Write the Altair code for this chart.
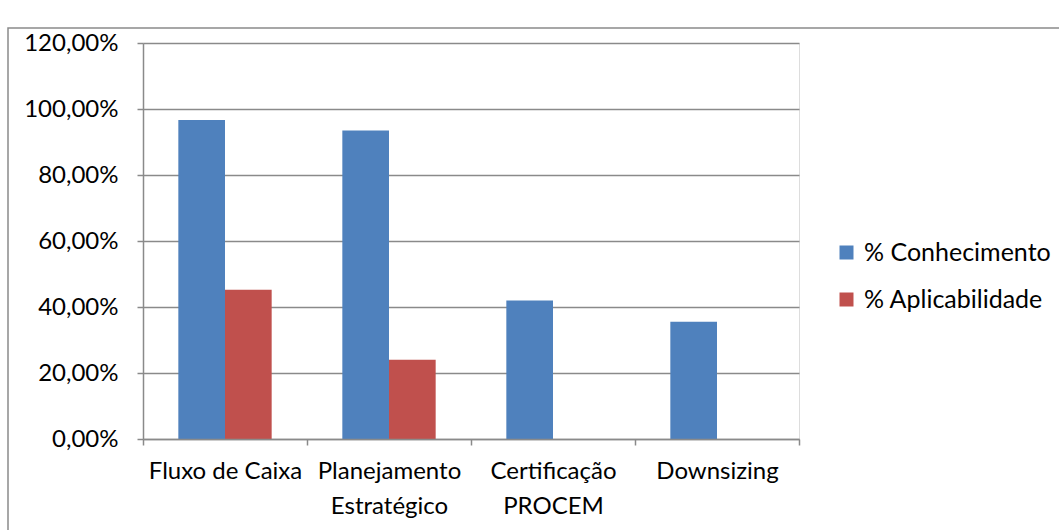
import altair as alt
import pandas as pd

categories = ["Fluxo de Caixa", "Planejamento\nEstratégico", "Certificação\nPROCEM", "Downsizing"]
series_names = ["% Conhecimento", "% Aplicabilidade"]
conhecimento = [96.7, 93.5, 42.0, 35.5]
aplicabilidade = [45.2, 24.0, 0.0, 0.0]
y_ticks = [0, 20, 40, 60, 80, 100, 120]

rows = []
for c, v1, v2 in zip(categories, conhecimento, aplicabilidade):
    rows.append({"cat": c, "serie": series_names[0], "valor": v1})
    rows.append({"cat": c, "serie": series_names[1], "valor": v2})
df = pd.DataFrame(rows)

FONT = "Lato"
FS = 24
GRID = "#8a8a8a"

frame = alt.Chart(pd.DataFrame({"a": [0]})).mark_rect(
    fillOpacity=0, stroke="#8a8a8a", strokeWidth=1.5
).encode(x=alt.value(-135), x2=alt.value(1000), y=alt.value(-15), y2=alt.value(600))

bars = alt.Chart(df).mark_bar().encode(
    x=alt.X("cat:N", sort=categories, scale=alt.Scale(paddingInner=0, paddingOuter=0),
            axis=alt.Axis(title=None, labelAngle=0, tickBand="extent", labelExpr="split(datum.label, '\\n')",
                          labelFont=FONT, labelFontSize=FS, labelColor="black", labelLineHeight=35,
                          labelPadding=14, domainColor=GRID, domainWidth=1.5, tickColor=GRID,
                          tickWidth=1.5, tickSize=6, labelBaseline="top", labelLimit=300, zindex=1)),
    xOffset=alt.XOffset("serie:N", sort=series_names, scale=alt.Scale(paddingInner=0, paddingOuter=0.757)),
    y=alt.Y("valor:Q", scale=alt.Scale(domain=[0, 120], nice=False),
            axis=alt.Axis(title=None, values=y_ticks, labelExpr="replace(format(datum.value, '.2f'), '.', ',') + '%'",
                          labelFont=FONT, labelFontSize=FS, labelColor="black", labelPadding=19,
                          domainColor=GRID, domainWidth=1.5, tickColor=GRID, tickWidth=1.5, tickSize=6,
                          gridColor=GRID, gridWidth=1.5, zindex=0)),
    color=alt.Color("serie:N", sort=series_names,
                    scale=alt.Scale(domain=series_names, range=["#4F81BD", "#C0504D"]),
                    legend=alt.Legend(title=None, orient="none", legendX=691, legendY=197,
                                      symbolType="square", symbolSize=196, symbolStrokeWidth=0,
                                      labelFont=FONT, labelFontSize=25, labelColor="black",
                                      labelLimit=400, rowPadding=21, labelOffset=5)),
)

chart = alt.layer(frame, bars).properties(
    width=656, height=396,
    autosize=alt.AutoSizeParams(type="none"),
    padding={"left": 143, "top": 43, "right": 260, "bottom": 91},
).configure_view(stroke=None).configure(background="white")

chart.save("out.html", embed_options={"renderer": "svg", "actions": False})
